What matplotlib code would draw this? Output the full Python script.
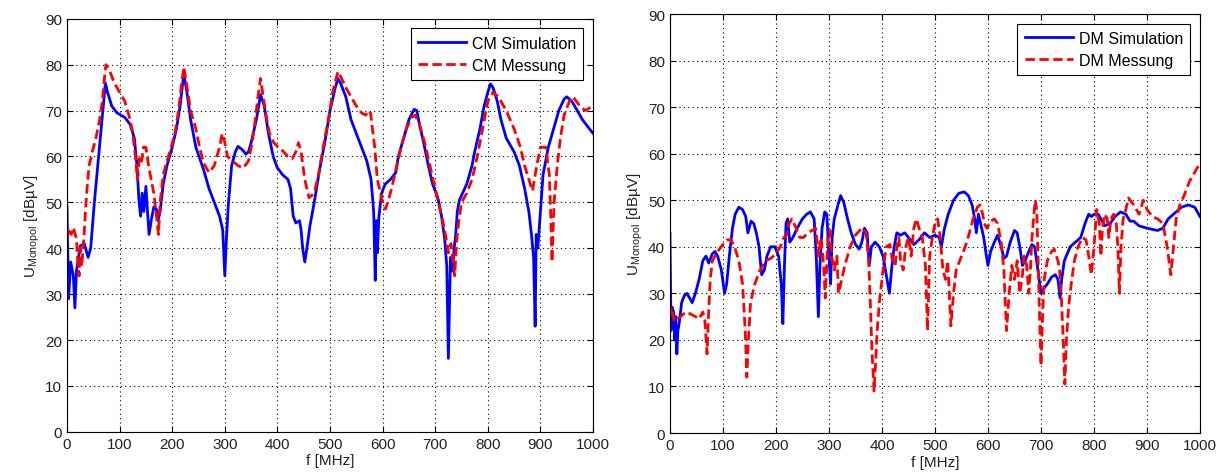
import matplotlib
matplotlib.use("Agg")
import matplotlib.pyplot as plt

plt.rcParams['font.family'] = ['Liberation Sans', 'DejaVu Sans']
plt.rcParams['mathtext.default'] = 'regular'

# CM Simulation (blue, left)
cm_sim_f = [0, 3, 7, 12, 15, 18, 25, 33, 40, 45, 52, 60, 68, 73, 77, 85, 95, 110, 120, 128,
            133, 137, 140, 143, 146, 150, 153, 156, 160, 165, 170, 173, 177, 183, 190, 200,
            208, 215, 222, 228, 235, 245, 260, 270, 280, 290, 296, 300, 303, 307, 313, 320,
            325, 333, 340, 345, 350, 360, 368, 375, 383, 392, 400, 410, 420, 425, 430, 435,
            442, 445, 448, 452, 456, 462, 470, 480, 490, 500, 510, 515, 520, 530, 540, 550,
            560, 570, 578, 583, 586, 588, 590, 593, 598, 605, 615, 625, 630, 640, 650, 660,
            665, 670, 678, 687, 695, 705, 712, 718, 722, 725, 729, 733, 736, 739, 742, 746,
            752, 760, 770, 775, 785, 793, 800, 805, 810, 818, 825, 835, 850, 860, 870, 878,
            883, 887, 890, 892, 895, 900, 905, 915, 925, 935, 945, 950, 960, 970, 980, 990, 1000]
cm_sim_v = [49, 29, 37, 34, 27, 35, 40.5, 41, 38, 40, 50, 60, 70, 76, 74, 71, 69.5, 68.5, 67, 64,
            58, 50, 47, 52, 48, 53.5, 48, 43, 46, 49, 48.5, 46, 48, 54, 58, 62,
            66, 71, 78, 74, 68, 62, 57, 53, 50, 47, 44, 34, 42, 50, 58, 61,
            62.2, 61.5, 60.5, 61, 63, 68, 73.5, 71, 65, 60, 57.5, 56, 55, 53, 47, 45.5,
            46, 44, 40, 37, 40, 45, 50, 57, 63, 70, 75, 77, 76, 73, 68, 65,
            62, 59, 55, 48, 33, 46, 39, 47, 52, 54, 55, 56.5, 60, 64, 68, 70.3,
            70, 67, 63, 58, 54, 51, 47, 42, 36, 16, 38, 35, 40, 43, 48, 50.5,
            52, 54, 58, 61, 66, 71, 74, 75.8, 75, 72, 68, 64, 61, 58, 53, 48,
            43, 38, 23, 43, 40, 48, 56, 62, 66, 70, 72.5, 73, 72, 70, 68, 66.5, 65]

# CM Messung (red dashed, left)
cm_mes_f = [0, 2, 8, 12, 18, 20, 23, 25, 28, 32, 35, 38, 42, 48, 55, 62, 67, 72, 74, 80,
            90, 100, 110, 120, 125, 130, 134, 138, 142, 145, 150, 155, 160, 165, 170, 174,
            177, 183, 190, 198, 205, 212, 218, 222, 227, 235, 245, 252, 260, 270, 280, 290,
            295, 300, 305, 315, 325, 335, 345, 352, 358, 363, 368, 373, 380, 385, 393, 402,
            412, 420, 428, 435, 440, 445, 452, 460, 470, 478, 487, 497, 505, 515, 522, 530,
            540, 550, 560, 568, 573, 577, 585, 590, 600, 605, 610, 617, 625, 635, 645, 655,
            662, 670, 680, 690, 700, 710, 718, 725, 730, 737, 741, 745, 750, 760, 770, 780,
            790, 800, 810, 820, 835, 850, 862, 870, 878, 885, 893, 900, 910, 917, 920, 922,
            926, 932, 938, 945, 955, 962, 975, 985, 1000]
cm_mes_v = [41, 44, 43, 44.5, 42, 38, 34, 40, 36, 42, 48, 53, 58, 61, 64, 68, 72, 78, 80, 79,
            76, 74, 72, 68, 65, 60, 55, 60, 59, 62, 62, 58, 55, 52, 47, 43,
            50, 56, 59, 62, 65, 70, 76, 79.5, 76, 70, 66, 62, 58.5, 56.5, 58, 62,
            65, 63, 60, 59, 58, 57.5, 59, 63, 68, 73, 77, 73, 68, 65, 63, 62,
            61, 60, 59.5, 61, 63, 61, 55, 51, 52, 56, 62, 68, 74, 78.5, 77, 75,
            73, 71, 69.5, 69, 70, 69.5, 62, 55, 50, 48.5, 50, 53, 57, 62, 66, 68.5,
            69, 67, 63, 58, 53, 48, 44, 39, 41, 34, 42, 46, 50, 52, 55, 60,
            66, 72, 74, 73, 70, 66, 62, 58, 55, 52.5, 58, 62, 62, 56, 46, 37,
            50, 58, 64, 69, 72, 73, 71, 70, 71]

# DM Simulation (blue, right)
dm_sim_f = [0, 2, 4, 7, 9, 11, 13, 15, 18, 22, 27, 32, 37, 42, 48, 55, 62, 68, 73, 80,
            85, 90, 97, 103, 107, 112, 118, 123, 130, 137, 143, 147, 153, 158, 163, 168,
            173, 178, 183, 190, 198, 205, 210, 213, 216, 219, 222, 226, 232, 240, 250, 258,
            265, 272, 276, 280, 283, 287, 292, 296, 300, 303, 306, 310, 317, 322, 328, 335,
            342, 350, 357, 362, 367, 372, 376, 380, 387, 395, 402, 408, 414, 418, 423, 428,
            435, 443, 450, 460, 470, 480, 490, 500, 508, 512, 518, 525, 535, 545, 555, 563,
            570, 575, 578, 582, 586, 592, 597, 600, 605, 612, 618, 625, 630, 635, 642, 650,
            655, 660, 665, 670, 677, 683, 688, 693, 700, 705, 712, 720, 727, 732, 736, 739,
            744, 755, 765, 775, 783, 790, 795, 800, 808, 813, 820, 830, 840, 850, 860, 868,
            875, 885, 900, 920, 930, 940, 950, 965, 978, 990, 1000]
dm_sim_v = [43, 22, 27, 26, 20, 25, 17, 22, 24, 28, 29.5, 30, 29, 28, 30, 33, 37, 38, 36.5, 38.5,
            39, 38, 35, 30, 32, 38, 44, 47, 48.5, 48, 46.5, 43, 45.5, 45, 43, 40,
            34, 35, 38, 40, 40, 38, 32, 23.5, 36, 45, 46, 41, 42, 44, 46, 47,
            47.5, 46, 38, 25, 36, 44, 47.5, 47, 38, 32, 42, 46, 49, 51, 49.5, 46,
            43, 40.5, 39.5, 41, 44, 43, 36, 40, 41, 40, 38, 34, 30, 35, 40, 43,
            42.5, 43, 42, 40.5, 41.5, 43, 42, 42.5, 42, 40, 44, 47, 50, 51.5, 51.8, 51,
            49, 46, 43, 47, 45, 42, 38, 36, 39, 41, 42.5, 40, 37.5, 38, 41, 43.5,
            43, 40, 36, 37, 39, 40.5, 40, 36, 30, 31, 32, 33.5, 34, 33, 29, 33,
            37, 40, 41, 42, 45, 47, 46.5, 47, 47, 46, 44.5, 45, 46.5, 47.5, 47, 45.5,
            45.5, 44.5, 44, 43.5, 44, 46, 47, 48.5, 49, 48.5, 46.5]

# DM Messung (red dashed, right)
dm_mes_f = [0, 3, 8, 12, 20, 30, 40, 48, 55, 62, 66, 70, 73, 76, 80, 90, 100, 108, 115, 122,
            130, 137, 142, 145, 148, 152, 160, 170, 180, 190, 200, 208, 215, 220, 225, 230,
            238, 245, 252, 260, 268, 275, 280, 285, 290, 293, 298, 302, 305, 310, 315, 318,
            322, 330, 340, 350, 362, 370, 375, 378, 381, 385, 388, 391, 395, 402, 408, 415,
            420, 425, 428, 432, 435, 440, 445, 450, 455, 460, 465, 470, 476, 482, 486, 490,
            495, 500, 505, 510, 515, 520, 524, 527, 530, 535, 540, 550, 557, 565, 572, 580,
            585, 590, 593, 598, 605, 612, 618, 625, 630, 632, 635, 640, 645, 650, 655, 660,
            665, 668, 673, 677, 680, 683, 686, 689, 692, 695, 698, 700, 703, 706, 712, 720,
            725, 732, 735, 738, 742, 745, 748, 752, 757, 763, 770, 778, 785, 790, 795, 800,
            805, 810, 813, 816, 820, 825, 828, 832, 837, 842, 845, 848, 851, 855, 860, 865,
            875, 885, 893, 900, 910, 920, 930, 938, 945, 950, 955, 962, 970, 980, 990, 1000]
dm_mes_v = [25, 27, 24, 24.5, 25, 26, 25.5, 25, 24.5, 26, 24, 17, 26, 33, 37, 39, 40.5, 41.5, 41.5, 40,
            37, 32, 22, 12, 20, 28, 32, 35, 37, 37.5, 38.5, 40, 42, 42.5, 45, 46,
            44, 42, 42, 43, 43.5, 44, 38, 42, 36, 29, 42, 43.5, 38, 35, 38, 30,
            32, 36, 40, 42.5, 44, 43, 37, 28, 18, 9, 15, 22, 28, 35, 40, 40.5,
            37, 36, 40, 42, 37, 35, 40, 42, 38, 44, 46, 44, 42, 36, 22, 38,
            42, 45, 46, 42, 35, 33, 37, 30, 23, 30, 35, 38, 40, 43, 46, 48.5,
            49, 47, 45, 44, 45.5, 46, 45, 41, 35, 30, 22, 30, 36, 33, 37, 30,
            34, 38, 36, 30, 35, 42, 46, 50, 48, 35, 22, 14.5, 25, 33, 37, 39,
            39.5, 37, 35, 30, 20, 10.5, 20, 27, 32, 37, 40, 42, 41.5, 38, 34, 40,
            48, 45, 38, 44, 47, 46, 42, 46, 47, 45, 40, 30, 40, 46, 48, 50.5,
            49, 47, 50, 48, 46.5, 46, 45, 40, 34, 40, 46, 49, 51, 54, 56, 58]

fig = plt.figure(figsize=(12.25, 4.77), dpi=100)
ax1 = fig.add_axes([0.0547, 0.0927, 0.4294, 0.8658])
ax2 = fig.add_axes([0.5469, 0.0901, 0.4327, 0.8784])

panels = [
    (ax1, cm_sim_f, cm_sim_v, cm_mes_f, cm_mes_v, 'CM Simulation', 'CM Messung'),
    (ax2, dm_sim_f, dm_sim_v, dm_mes_f, dm_mes_v, 'DM Simulation', 'DM Messung'),
]

for ax, sf, sv, mf, mv, lab_s, lab_m in panels:
    ax.plot(sf, sv, color='#0000ff', lw=2.0, label=lab_s)
    ax.plot(mf, mv, color='#ff0000', lw=2.0, dashes=(3.4, 1.6), label=lab_m)
    ax.set_xlim(0, 1000)
    ax.set_ylim(0, 90)
    ax.set_xticks(range(0, 1001, 100))
    ax.set_yticks(range(0, 91, 10))
    ax.grid(True, color='black', linestyle=(0, (1, 3)), lw=0.8)
    ax.tick_params(direction='in', top=True, right=True, labelsize=11, length=4,
                   labelcolor='#222222')
    for s in ax.spines.values():
        s.set_linewidth(0.8)
    ax.set_xlabel('f [MHz]', fontsize=11, labelpad=2, color='#222222')
    ax.set_ylabel(r'U$_{Monopol}$ [dBµV]', fontsize=11, labelpad=2, color='#222222')
    leg = ax.legend(loc='upper right', fontsize=11.5, fancybox=False, framealpha=1,
                    edgecolor='black', handlelength=3.0, borderaxespad=0.6,
                    labelspacing=0.45, handletextpad=0.4, borderpad=0.45)
    leg.get_frame().set_linewidth(0.8)

fig.savefig('out.png', dpi=100)
